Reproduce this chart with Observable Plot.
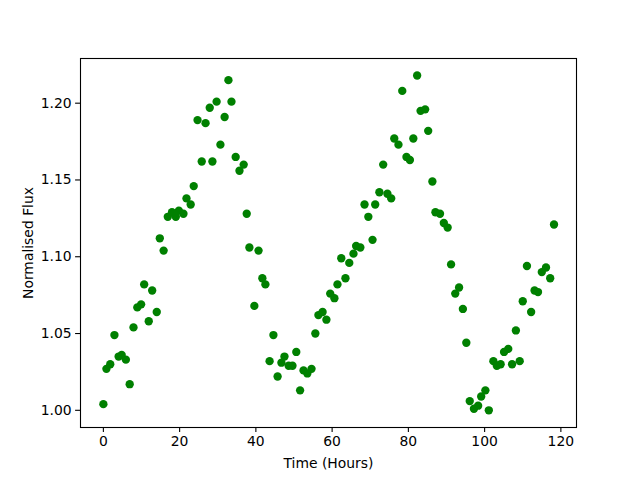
<!DOCTYPE html>
<html>
<head>
<meta charset="utf-8">
<script src="https://cdn.jsdelivr.net/npm/d3@7"></script>
<script src="https://cdn.jsdelivr.net/npm/@observablehq/plot@0.6"></script>
<style>
  html, body { margin: 0; padding: 0; background: white; }
</style>
</head>
<body>
<div id="chart"></div>
<script>
const times = [0.0,0.8,1.8,2.9,4.0,4.8,5.9,6.9,7.9,8.9,9.9,10.7,11.9,12.8,14.0,14.8,15.8,16.9,18.0,19.0,
  19.8,21.0,21.8,22.9,23.7,24.7,25.8,26.8,27.9,28.6,29.7,30.7,31.8,32.8,33.6,34.7,35.7,36.8,37.6,38.3,
  39.6,40.7,41.7,42.5,43.6,44.6,45.7,46.7,47.5,48.6,49.6,50.6,51.6,52.5,53.5,54.6,55.6,56.4,57.5,58.5,
  59.5,60.6,61.4,62.4,63.5,64.5,65.6,66.3,67.4,68.5,69.5,70.6,71.3,72.4,73.4,74.5,75.5,76.3,77.4,78.4,
  79.5,80.4,81.3,82.3,83.2,84.4,85.2,86.3,87.1,88.3,89.3,90.3,91.2,92.3,93.3,94.3,95.2,96.1,97.2,98.3,
  99.1,100.2,101.1,102.3,103.2,104.2,105.1,106.2,107.2,108.2,109.2,110.0,111.1,112.2,113.1,114.0,115.0,116.1,117.2,118.2];
const flux = [1.004,1.027,1.030,1.049,1.035,1.036,1.033,1.017,1.054,1.067,1.069,1.082,1.058,1.078,1.064,1.112,1.104,1.126,1.129,1.126,
  1.130,1.128,1.138,1.134,1.146,1.189,1.162,1.187,1.197,1.162,1.201,1.173,1.191,1.215,1.201,1.165,1.156,1.160,1.128,1.106,
  1.068,1.104,1.086,1.082,1.032,1.049,1.022,1.031,1.035,1.029,1.029,1.038,1.013,1.026,1.024,1.027,1.050,1.062,1.064,1.059,
  1.076,1.073,1.082,1.099,1.086,1.096,1.102,1.107,1.106,1.134,1.126,1.111,1.134,1.142,1.160,1.141,1.138,1.177,1.173,1.208,
  1.165,1.163,1.177,1.218,1.195,1.196,1.182,1.149,1.129,1.128,1.122,1.119,1.095,1.076,1.080,1.066,1.044,1.006,1.001,1.003,
  1.009,1.013,1.000,1.032,1.029,1.030,1.038,1.040,1.030,1.052,1.032,1.071,1.094,1.064,1.078,1.077,1.090,1.093,1.086,1.121];
const xTicks = [0, 20, 40, 60, 80, 100, 120];
const yTicks = [1.00, 1.05, 1.10, 1.15, 1.20];
const xLabel = "Time (Hours)";
const yLabel = "Normalised Flux";

const data = times.map((t, i) => ({t, f: flux[i]}));

const chart = Plot.plot({
  width: 640,
  height: 480,
  marginLeft: 80,
  marginRight: 64,
  marginTop: 58,
  marginBottom: 53,
  style: {fontFamily: "DejaVu Sans", fontSize: "13.9px", color: "black", background: "white"},
  x: {domain: [-6.0, 124.1]},
  y: {domain: [0.9888, 1.2291]},
  marks: [
    Plot.dot(data, {x: "t", y: "f", r: 4.17, fill: "#008000", stroke: "none"}),
    Plot.frame({stroke: "black", strokeWidth: 1.1}),
    Plot.axisX(xTicks, {tickSize: 4.9, tickPadding: 4, strokeWidth: 1.1, label: xLabel, labelAnchor: "center", labelArrow: "none", labelOffset: 40}),
    Plot.axisY(yTicks, {tickSize: 4.9, tickPadding: 4, strokeWidth: 1.1, tickFormat: d3.format(".2f"), label: yLabel, labelAnchor: "center", labelArrow: "none", labelOffset: 57})
  ]
});
document.getElementById("chart").appendChild(chart);
</script>
</body>
</html>
